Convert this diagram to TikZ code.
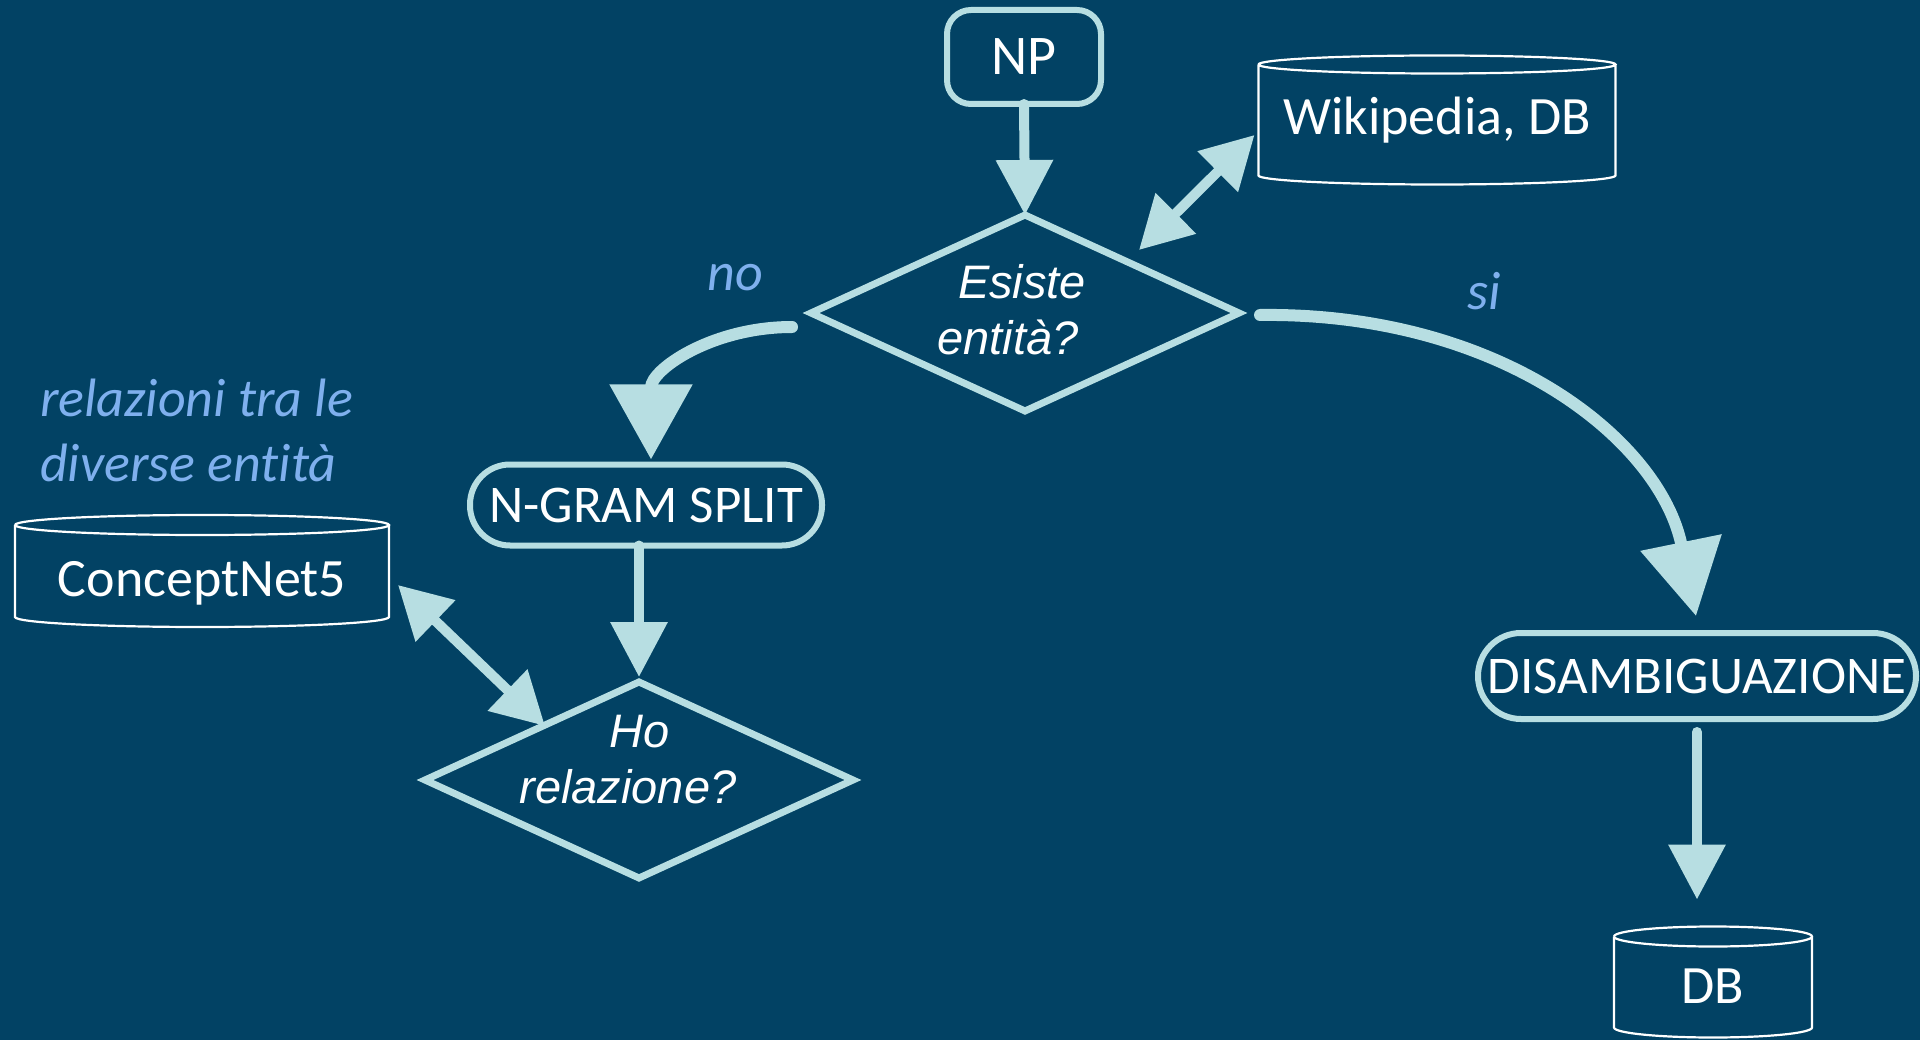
\documentclass[tikz,border=0pt]{standalone}
\usepackage{fontspec}
\setmainfont{Carlito}[Ligatures=NoCommon]
\newfontfamily\qfont{Liberation Sans}
\usetikzlibrary{arrows.meta,shapes.geometric,calc}
\definecolor{bgblue}{HTML}{024264}
\definecolor{flowline}{HTML}{B7DEE2}
\definecolor{notecol}{HTML}{7FB0EE}

% outline of a data store: open sides, bottom arc and full top ellipse
\newcommand\cylbody[2]{%
  \draw[dbline] let \p1=(#1.north west), \p2=(#1.south east), \n1={(\x2-\x1)/2} in
    (\p1) -- (\x1,\y2) arc[start angle=180, end angle=360, x radius=\n1, y radius=#2pt] -- (\x2,\y1)
    (\x1,\y1) arc[start angle=180, end angle=-180, x radius=\n1, y radius=#2pt];}

\begin{document}
\begin{tikzpicture}[x=1pt,y=-1pt,
  every node/.style={text=white, inner sep=0pt, outer sep=0pt},
  stepbox/.style={draw=flowline, line width=6pt, rounded corners=#1,
    font=\fontsize{53}{63}\selectfont},
  stepbox/.default=40pt,
  decision/.style={diamond, draw=flowline, line width=7pt, aspect=2.18,
    minimum width=428pt, minimum height=196pt},
  qtext/.style={font=\qfont\itshape\fontsize{47}{56}\selectfont, align=center},
  store/.style={font=\fontsize{54}{64}\selectfont},
  dbline/.style={draw=white, line width=2.2pt},
  note/.style={text=notecol, font=\itshape\fontsize{54}{65}\selectfont, align=left},
  flow/.style={draw=flowline, line width=10pt, line cap=round,
    -{Triangle[length=55pt,width=55pt]}},
  flowboth/.style={draw=flowline, line width=10pt,
    {Triangle[length=52pt,width=55pt]}-{Triangle[length=52pt,width=55pt]}},
  flowcurve/.style={draw=flowline, line width=12pt, line cap=round,
    -{Triangle[length=75pt,width=80pt]}}
]
\fill[bgblue] (0,0) rectangle (1920,1040);
\useasboundingbox (0,0) rectangle (1920,1040);

% process steps
\node[stepbox=24pt, minimum width=154pt, minimum height=94pt,
  font=\fontsize{56}{66}\selectfont] (np) at (1024,57) {NP};
\node[stepbox, minimum width=352pt, minimum height=81pt] (ng) at (646,505) {N-GRAM SPLIT};
\node[stepbox=43pt, minimum width=438pt, minimum height=86pt] (ds) at (1697,676) {DISAMBIGUAZIONE};

% decisions
\node[decision] (d1) at (1025,313) {};
\node[qtext] (d1t) at (1022,310) {Esiste\\entità?\hspace*{28pt}};
\node[decision] (d2) at (639,780) {};
\node[qtext] (d2t) at (640,760) {Ho\\relazione?\hspace*{24pt}};

% data stores
\node[store, minimum width=357pt, minimum height=111pt] (wiki) at (1437,120) {Wikipedia, DB};
\cylbody{wiki}{9}
\node[store, minimum width=374pt, minimum height=92pt,
  text height=50pt, text depth=0pt] (cn) at (202,571) {ConceptNet5};
\cylbody{cn}{10}
\node[store, minimum width=198pt, minimum height=91pt,
  text height=42pt, text depth=0pt] (db) at (1713,982) {DB};
\cylbody{db}{10}

% notes
\node[note] (nolbl) at (735,278) {no};
\node[note] (silbl) at (1484,291) {si};
\node[note, anchor=west] (rel) at (40,430) {relazioni tra le\\diverse entità};

% connectors
\draw[flow] (np.south) -- (d1.north);
\draw[flowboth] ($(d1.north east)+(7,-14)$) -- ($(wiki.west)+(-4,15)$);
\draw[flowcurve] ($(d1.west)+(-19,14)$) .. controls +(-80,0) and +(0,-90) .. ($(ng.north)+(5,-5)$);
\draw[flow] (d2.north |- ng.south) -- ($(d2.north)+(0,-5)$);
\draw[flowboth] ($(cn.east)+(9,14)$) -- ($(d2.north west)+(13,-5)$);
\draw[flowcurve] ($(d1.east)+(21,2)$) .. controls +(240,-3) and +(-36,-176) .. ($(ds.north)+(-1,-17)$);
\draw[flow] ($(ds.south)+(0,13)$) -- ($(ds.south |- db.north)+(0,-37)$);
\end{tikzpicture}
\end{document}
